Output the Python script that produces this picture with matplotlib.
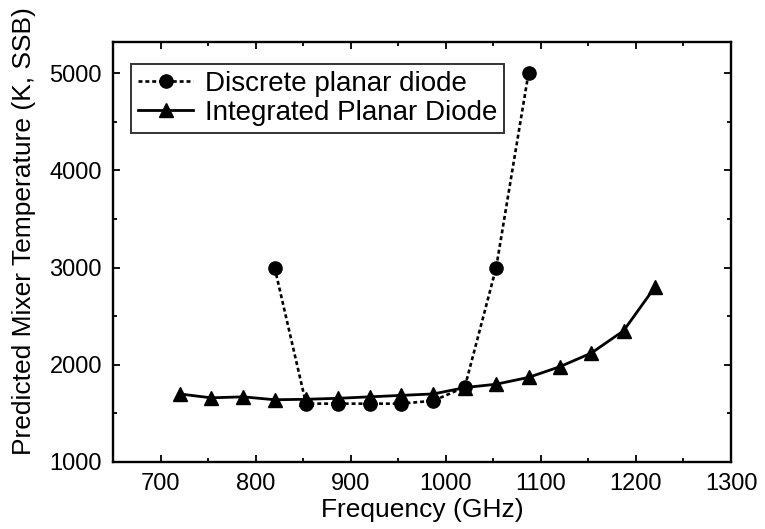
import numpy as np
import matplotlib
matplotlib.use("Agg")
import matplotlib.pyplot as plt

plt.rcParams['font.family'] = ['Liberation Sans', 'DejaVu Sans']

# discrete planar diode
freq_discrete = [820, 853, 887, 920, 953, 987, 1020, 1053, 1087]
temp_discrete = [3000, 1600, 1600, 1600, 1600, 1630, 1770, 3000, 5000]

# integrated planar diode
freq_integrated = [720, 753, 787, 820, 853, 887, 920, 953, 987, 1020,
                   1053, 1087, 1120, 1153, 1187, 1220]
temp_integrated = [1700, 1660, 1670, 1640, 1645, 1655, 1670, 1685, 1700, 1765,
                   1800, 1870, 1980, 2120, 2350, 2800]

xticks = [700, 800, 900, 1000, 1100, 1200, 1300]
yticks = [1000, 2000, 3000, 4000, 5000]


def main():
    fig = plt.figure(figsize=(7.65, 5.29), dpi=100)
    ax = fig.add_axes([0.1477, 0.1267, 0.8079, 0.7939])

    ax.plot(freq_discrete, temp_discrete, color='black', linestyle=(0, (1.5, 1.1)),
            linewidth=1.9, marker='o', markersize=9.5, label='Discrete planar diode')
    ax.plot(freq_integrated, temp_integrated, color='black', linestyle='-',
            linewidth=2.0, marker='^', markersize=9.5, label='Integrated Planar Diode')

    ax.set_xlim(650, 1300)
    ax.set_ylim(1000, 5320)
    ax.set_xticks(xticks)
    ax.set_yticks(yticks)
    ax.set_xticks(np.arange(650, 1301, 50), minor=True)
    ax.set_yticks(np.arange(1000, 5301, 500), minor=True)
    ax.tick_params(which='both', direction='in', top=True, right=True, width=1.3)
    ax.tick_params(which='major', length=5, labelsize=17, pad=8)
    ax.tick_params(which='minor', length=3)
    for s in ax.spines.values():
        s.set_linewidth(1.7)

    ax.set_xlabel('Frequency (GHz)', fontsize=19, labelpad=2)
    ax.set_ylabel('Predicted Mixer Temperature (K, SSB)', fontsize=19)
    ax.yaxis.set_label_coords(-0.125, 0.55)

    leg = ax.legend(loc='upper left', bbox_to_anchor=(0.029, 0.948), borderaxespad=0,
                    fontsize=20, frameon=True, fancybox=False, edgecolor='black',
                    handlelength=2.0, handletextpad=0.4, borderpad=0.25,
                    labelspacing=0.1)
    leg.get_frame().set_linewidth(1.4)

    fig.savefig('out.png', dpi=100)


main()
